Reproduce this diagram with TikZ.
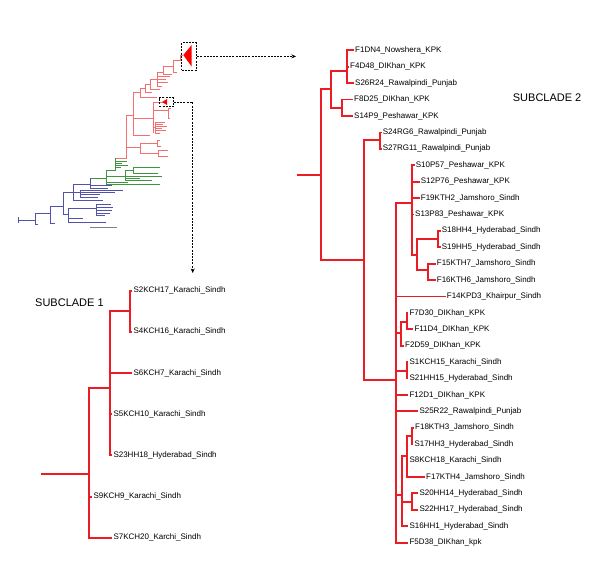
\documentclass[tikz,border=0pt]{standalone}
\usepackage{fontspec}
\setmainfont{Liberation Sans}
\usetikzlibrary{arrows.meta}

\definecolor{cladered}{RGB}{236,28,36}
\definecolor{treered}{RGB}{244,112,112}
\definecolor{treegreen}{RGB}{62,150,62}
\definecolor{treeblue}{RGB}{82,82,170}

\tikzset{
    leaf/.style={anchor=west, inner sep=1pt, font=\fontsize{8}{9}\selectfont},
    cladetitle/.style={anchor=west, inner sep=0pt, font=\fontsize{11}{13}\selectfont},
    branch/.style={every edge/.style={draw, cladered, line width=1.8pt, to path={|- (\tikztotarget)}}},
    twig/.style={line width=0.5pt},
    zoombox/.style={draw, dash pattern=on 2pt off 1.2pt, line width=0.9pt, inner sep=0pt},
    zoomarrow/.style={draw, dash pattern=on 2pt off 1.2pt, line width=0.9pt, -{Stealth[length=4.5pt, width=4pt]}}
}

\begin{document}
\begin{tikzpicture}[x=1pt, y=-1pt]
    \useasboundingbox (0,0) rectangle (600,566);

    % overview tree
    \begin{scope}[twig, treered]
        \draw (183,55) -- (180,55) -- (180,60) -- (173,60);
        \draw (173,60) -- (173,72) -- (177,72);
        \draw (173,66) -- (163,66) -- (163,74) -- (172,74);
        \draw (163,72) -- (157,72) -- (157,86) -- (162,86);
        \draw (157,76) -- (170,76) (157,79) -- (166,79) (157,82) -- (168,82);
        \draw (157,79) -- (150,79) -- (150,89) -- (160,89);
        \draw (150,84) -- (145,84) -- (145,92) -- (152,92);
        \draw (145,88) -- (140,88) -- (140,97) -- (157,97);
        \draw (140,92) -- (133.3,92) -- (133.3,135) -- (150,135);
        \draw (133.3,118) -- (153,118);
        \draw (153,102) -- (153,133) (153,102) -- (163,102);
        \draw (153,110) -- (168,110) (168,108) -- (168,118);
        \draw (168,108) -- (171,108) (168,118) -- (170,118);
        \draw (153,127) -- (155,127) (155,122) -- (155,133);
        \draw (155,122) -- (165,122) (155,124) -- (163,124) (155,126) -- (167,126);
        \draw (155,128) -- (162,128) (155,130) -- (166,130) (155,133) -- (160,133);
        \draw (133.3,115) -- (126.7,115) -- (126.7,158) -- (115,158);
        \draw (126.7,147) -- (140,147) (140,143) -- (140,153);
        \draw (140,143) -- (157,143) (157,140) -- (157,146);
        \draw (157,140) -- (160,140) (157,146) -- (161,146);
        \draw (140,153) -- (158,153) (158,150) -- (158,156);
        \draw (158,150) -- (168,150) (158,156) -- (168,156);
        \fill[red] (162,102) -- (167,99) -- (167,105) -- cycle;
    \end{scope}
    \begin{scope}[twig, treegreen]
        \draw (115,158) -- (115,170) -- (106,170);
        \draw (115,161) -- (127,161) (115,163) -- (122,163);
        \draw (115,165) -- (128,165) (115,167) -- (121,167);
        \draw (106,170) -- (106,184) -- (160,184);
        \draw (106,182) -- (128,182) (90,178) -- (106,178);
        \draw (106,176) -- (125,176) (125,170) -- (125,180);
        \draw (125,170) -- (133,170) (133,167) -- (133,173);
        \draw (133,167) -- (160,167) (133,173) -- (158,173);
        \draw (125,176) -- (162,176) (125,178) -- (140,178) (125,180) -- (152,180);
    \end{scope}
    \begin{scope}[twig, treeblue]
        \draw (90,178) -- (90,188);
        \draw (90,185) -- (112,185) (90,188) -- (108,188);
        \draw (90,184) -- (73,184) -- (73,200) -- (103,200);
        \draw (73,192) -- (80,192) (80,190) -- (80,197);
        \draw (80,190) -- (123,190) (80,192) -- (115,192);
        \draw (80,194) -- (100,194) (80,197) -- (98,197);
        \draw (73,192) -- (63,192) -- (63,214) -- (68,214);
        \draw (68,208) -- (68,222) -- (106,222) (68,218) -- (83,218);
        \draw (68,208) -- (96,208) (96,204) -- (96,215);
        \draw (96,204) -- (111,204) (96,207) -- (113,207) (96,210) -- (112,210);
        \draw (96,213) -- (110,213) (96,215) -- (105,215);
        \draw (63,206) -- (50,206) -- (50,223) -- (55,223);
        \draw (50,213) -- (35,213) -- (35,224) -- (38,224);
        \draw (35,220) -- (18,220) (18,217) -- (18,223);
    \end{scope}
    \draw[gray, line width=1pt] (90,227.7) -- (117.3,227.7);

    % zoom boxes
    \fill[red] (183.3,55) -- (191.7,45) -- (191.7,66.7) -- cycle;
    \node[zoombox, minimum width=15pt, minimum height=27.3pt] (bigbox) at (189.2,56.4) {};
    \node[zoombox, minimum width=14pt, minimum height=9pt] (smallbox) at (166.3,102.2) {};
    \coordinate (totwo) at (296,56.4);
    \coordinate (toone) at (192.7,273);
    \draw[zoomarrow] (bigbox.east) -- (totwo);
    \draw[zoomarrow] (smallbox.east) -| (toone);

    % subclade 1
    \node[cladetitle] (title1) at (35,302.3) {SUBCLADE 1};
    \node[leaf] (s2kch17) at (132.3,290.7) {S2KCH17\_Karachi\_Sindh};
    \node[leaf] (s4kch16) at (132.3,331.7) {S4KCH16\_Karachi\_Sindh};
    \node[leaf] (s6kch7) at (132.3,373.3) {S6KCH7\_Karachi\_Sindh};
    \node[leaf] (s5kch10) at (112.3,414.3) {S5KCH10\_Karachi\_Sindh};
    \node[leaf] (s23hh18) at (112.3,455) {S23HH18\_Hyderabad\_Sindh};
    \node[leaf] (s9kch9) at (92.3,496.7) {S9KCH9\_Karachi\_Sindh};
    \node[leaf] (s7kch20) at (112.3,537.7) {S7KCH20\_Karchi\_Sindh};

    \coordinate (a0) at (40.7,474.3);
    \coordinate (a1) at (89.3,474.3);
    \coordinate (a2) at (110,388.3);
    \coordinate (a3) at (130,310.7);

    \path[branch]
        (a0) edge (a1)
        (a1) edge (a2)
        (a1) edge (s9kch9.west)
        (a1) edge (s7kch20.west)
        (a2) edge (a3)
        (a2) edge (s6kch7.west)
        (a2) edge (s5kch10.west)
        (a2) edge (s23hh18.west)
        (a3) edge (s2kch17.west)
        (a3) edge (s4kch16.west);

    % subclade 2
    \node[cladetitle] (title2) at (512.7,97.7) {SUBCLADE 2};
    \node[leaf] (f1dn4) at (354,50.3) {F1DN4\_Nowshera\_KPK};
    \node[leaf] (f4d48) at (349,66.7) {F4D48\_DIKhan\_KPK};
    \node[leaf] (s26r24) at (354,83.1) {S26R24\_Rawalpindi\_Punjab};
    \node[leaf] (f8d25) at (353,99.5) {F8D25\_DIKhan\_KPK};
    \node[leaf] (s14p9) at (353,116) {S14P9\_Peshawar\_KPK};
    \node[leaf] (s24rg6) at (381.7,132.4) {S24RG6\_Rawalpindi\_Punjab};
    \node[leaf] (s27rg11) at (381.7,148.8) {S27RG11\_Rawalpindi\_Punjab};
    \node[leaf] (s10p57) at (414.7,165.2) {S10P57\_Peshawar\_KPK};
    \node[leaf] (s12p76) at (419.7,181.6) {S12P76\_Peshawar\_KPK};
    \node[leaf] (f19kth2) at (419.7,198) {F19KTH2\_Jamshoro\_Sindh};
    \node[leaf] (s13p83) at (414,214.4) {S13P83\_Peshawar\_KPK};
    \node[leaf] (s18hh4) at (440.7,230.8) {S18HH4\_Hyderabad\_Sindh};
    \node[leaf] (s19hh5) at (440.7,247.2) {S19HH5\_Hyderabad\_Sindh};
    \node[leaf] (f15kth7) at (435.7,263.6) {F15KTH7\_Jamshoro\_Sindh};
    \node[leaf] (f16kth6) at (435.7,280) {F16KTH6\_Jamshoro\_Sindh};
    \node[leaf] (f14kpd3) at (445.7,296.5) {F14KPD3\_Khairpur\_Sindh};
    \node[leaf] (f7d30) at (408.3,312.9) {F7D30\_DIKhan\_KPK};
    \node[leaf] (f11d4) at (413.3,329.3) {F11D4\_DIKhan\_KPK};
    \node[leaf] (f2d59) at (404,345.7) {F2D59\_DIKhan\_KPK};
    \node[leaf] (s1kch15) at (408.3,362.1) {S1KCH15\_Karachi\_Sindh};
    \node[leaf] (s21hh15) at (408.3,378.5) {S21HH15\_Hyderabad\_Sindh};
    \node[leaf] (f12d1) at (408.3,394.9) {F12D1\_DIKhan\_KPK};
    \node[leaf] (s25r22) at (418.3,411.3) {S25R22\_Rawalpindi\_Punjab};
    \node[leaf] (f18kth3) at (414,427.7) {F18KTH3\_Jamshoro\_Sindh};
    \node[leaf] (s17hh3) at (413.3,444.1) {S17HH3\_Hyderabad\_Sindh};
    \node[leaf] (s8kch18) at (408.3,460.5) {S8KCH18\_Karachi\_Sindh};
    \node[leaf] (f17kth4) at (425,476.9) {F17KTH4\_Jamshoro\_Sindh};
    \node[leaf] (s20hh14) at (418.3,493.3) {S20HH14\_Hyderabad\_Sindh};
    \node[leaf] (s22hh17) at (418.3,509.7) {S22HH17\_Hyderabad\_Sindh};
    \node[leaf] (s16hh1) at (408.3,526.2) {S16HH1\_Hyderabad\_Sindh};
    \node[leaf] (f5d38) at (408.3,542.6) {F5D38\_DIKhan\_kpk};

    \coordinate (b0) at (296.7,175);
    \coordinate (b1) at (320.7,175);
    \coordinate (b2) at (330.7,89.3);
    \coordinate (b3) at (346.7,70.7);
    \coordinate (b4) at (341.7,108.3);
    \coordinate (b5) at (364,260);
    \coordinate (b6) at (380,140);
    \coordinate (b7) at (396,380);
    \coordinate (b8) at (411.7,202.7);
    \coordinate (b9) at (416.7,255);
    \coordinate (b10) at (438.3,239.3);
    \coordinate (b11) at (427.7,270);
    \coordinate (b12) at (400.7,333);
    \coordinate (b13) at (406.7,321.7);
    \coordinate (b14) at (406.7,370.8);
    \coordinate (b15) at (401.7,495);
    \coordinate (b16) at (406.7,456);
    \coordinate (b17) at (411.7,436);
    \coordinate (b18) at (411.7,501.7);

    \path[branch]
        (b0) edge (b1)
        (b1) edge (b2)
        (b1) edge (b5)

        (b2) edge (b3)
        (b2) edge (b4)
        (b3) edge (f1dn4.west)
        (b3) edge (f4d48.west)
        (b3) edge (s26r24.west)
        (b4) edge (f8d25.west)
        (b4) edge (s14p9.west)

        (b5) edge (b6)
        (b5) edge (b7)
        (b6) edge (s24rg6.west)
        (b6) edge (s27rg11.west)

        (b7) edge (b8)
        (b7) edge (f14kpd3.west)
        (b7) edge (b12)
        (b7) edge (b14)
        (b7) edge (f12d1.west)
        (b7) edge (s25r22.west)
        (b7) edge (b15)
        (b7) edge (f5d38.west)

        (b8) edge (s10p57.west)
        (b8) edge (s12p76.west)
        (b8) edge (f19kth2.west)
        (b8) edge (s13p83.west)
        (b8) edge (b9)
        (b9) edge (b10)
        (b9) edge (b11)
        (b10) edge (s18hh4.west)
        (b10) edge (s19hh5.west)
        (b11) edge (f15kth7.west)
        (b11) edge (f16kth6.west)

        (b12) edge (b13)
        (b12) edge (f2d59.west)
        (b13) edge (f7d30.west)
        (b13) edge (f11d4.west)
        (b14) edge (s1kch15.west)
        (b14) edge (s21hh15.west)

        (b15) edge (b16)
        (b15) edge (b18)
        (b15) edge (s16hh1.west)
        (b16) edge (b17)
        (b16) edge (s8kch18.west)
        (b16) edge (f17kth4.west)
        (b17) edge (f18kth3.west)
        (b17) edge (s17hh3.west)
        (b18) edge (s20hh14.west)
        (b18) edge (s22hh17.west);
\end{tikzpicture}
\end{document}
